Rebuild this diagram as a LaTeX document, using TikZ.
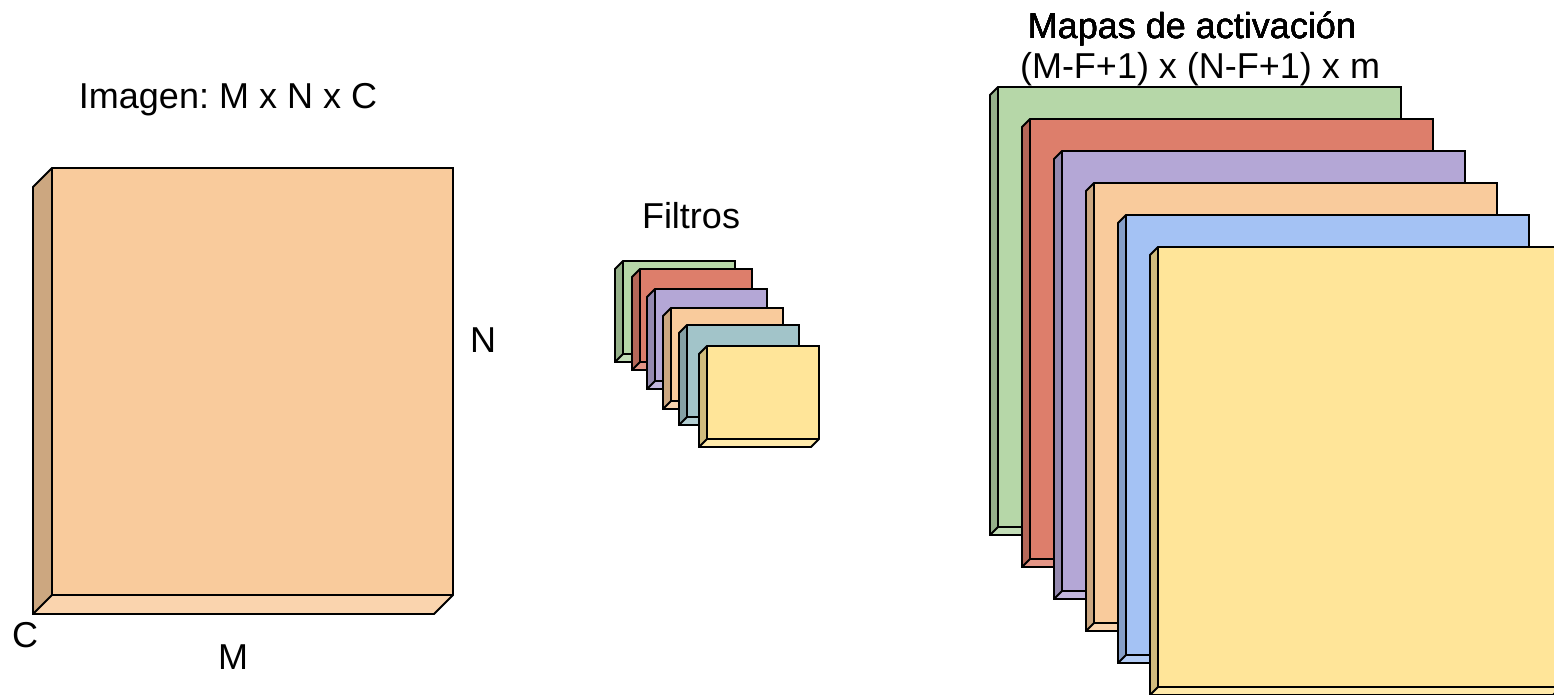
\documentclass[tikz,border=0pt]{standalone}
\usepackage{fontspec}
\setmainfont{Liberation Sans}
\frenchspacing

\definecolor{verde}{HTML}{B6D7A8}
\definecolor{rojo}{HTML}{DD7E6B}
\definecolor{morado}{HTML}{B4A7D6}
\definecolor{naranja}{HTML}{F9CB9C}
\definecolor{cian}{HTML}{A2C4C9}
\definecolor{azul}{HTML}{A4C2F4}
\definecolor{amarillo}{HTML}{FFE599}

% box seen from the front: front face, left face and bottom face
% #1,#2 top left corner, #3 width, #4 height, #5 depth, #6 colour
\newcommand{\caja}[6]{
  \fill[#6] (#1+#5,#2) rectangle (#1+#3,#2+#4-#5);
  \fill[#6!82!black] (#1,#2+#5) -- (#1+#5,#2) -- (#1+#5,#2+#4-#5) -- (#1,#2+#4) -- cycle;
  \fill[#6!82!white] (#1,#2+#4) -- (#1+#5,#2+#4-#5) -- (#1+#3,#2+#4-#5) -- (#1+#3-#5,#2+#4) -- cycle;
  \draw[borde] (#1,#2+#5) -- (#1+#5,#2) -- (#1+#3,#2) -- (#1+#3,#2+#4-#5)
    -- (#1+#3-#5,#2+#4) -- (#1,#2+#4) -- cycle;
  \draw[borde] (#1+#5,#2) -- (#1+#5,#2+#4-#5) -- (#1+#3,#2+#4-#5);
  \draw[borde] (#1,#2+#4) -- (#1+#5,#2+#4-#5);
}

\begin{document}
\begin{tikzpicture}[x=1pt, y=-1pt,
  borde/.style={line width=1.9pt, line join=miter},
  etiqueta/.style={anchor=base, inner sep=0pt, font=\fontsize{36}{43}\selectfont}
]
\useasboundingbox (0,0) rectangle (1554,695);

% --- input image ---
\caja{33}{168}{420}{446}{19}{naranja}
\node[etiqueta] (imagen) at (228,109) {Imagen: M x N x C};
\node[etiqueta] (n) at (483,352) {N};
\node[etiqueta] (c) at (25,647) {C};
\node[etiqueta] (m) at (233,669) {M};

% --- filters ---
\caja{615}{261}{120}{101}{8}{verde}
\caja{632}{269}{120}{101}{8}{rojo}
\caja{647}{289}{120}{100}{8}{morado}
\caja{663}{308}{120}{101}{8}{naranja}
\caja{679}{325}{120}{100}{8}{cian}
\caja{699}{346}{120}{101}{8}{amarillo}
\node[etiqueta] (filtros) at (691,228) {Filtros};

% --- activation maps, one every 32 ---
\foreach \i/\col in {0/verde,1/rojo,2/morado,3/naranja,4/azul,5/amarillo}
  \caja{990+32*\i}{87+32*\i}{411}{448}{8}{\col}
\node[etiqueta] (mapas) at (1192,39) {Mapas de activación};
\node[etiqueta] (dims) at (1200,79) {(M-F+1) x (N-F+1) x m};

\end{tikzpicture}
\end{document}
